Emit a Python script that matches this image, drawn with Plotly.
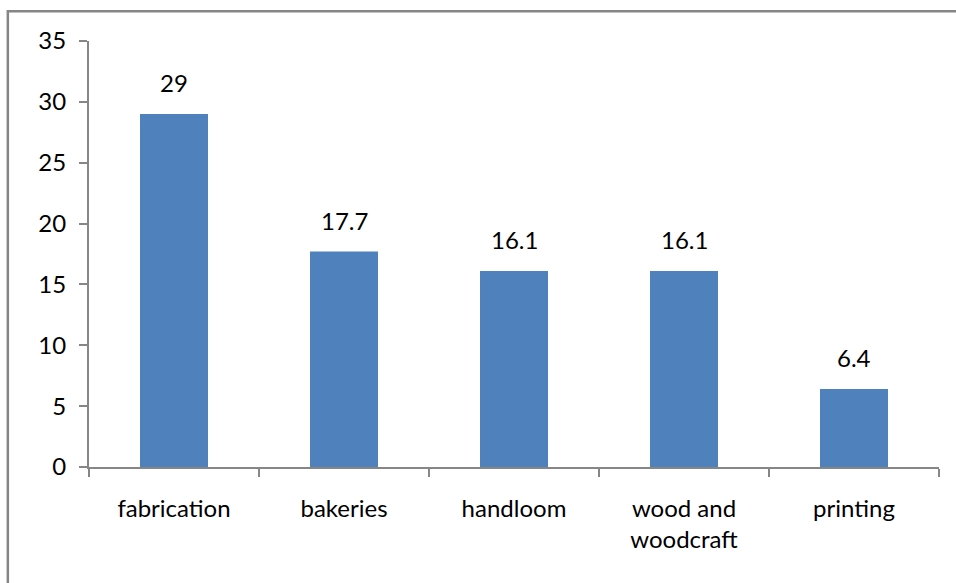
import plotly.graph_objects as go

categories = ["fabrication", "bakeries", "handloom", "wood and<br>woodcraft", "printing"]
values = [29, 17.7, 16.1, 16.1, 6.4]
y_ticks = [0, 5, 10, 15, 20, 25, 30, 35]

FONT = "Lato"
FONT_SIZE = 24
AXIS_GREY = "#868686"
BAR_BLUE = "#4F81BD"

fig = go.Figure(
    go.Bar(
        x=categories,
        y=values,
        marker=dict(color=BAR_BLUE, line=dict(width=0)),
        width=0.4,
        hoverinfo="x+y",
    )
)

# value labels above each bar
for cat, val in zip(categories, values):
    fig.add_annotation(
        x=cat, y=val, text=f"{val:g}", showarrow=False,
        yanchor="bottom", yshift=15,
        font=dict(family=FONT, size=FONT_SIZE, color="black"),
    )

# chart frame (top and left edges visible)
fig.add_shape(
    type="rect", xref="paper", yref="paper",
    x0=-0.0955, x1=1.1, y0=-0.5, y1=1.07,
    line=dict(color=AXIS_GREY, width=2.5), fillcolor="rgba(0,0,0,0)",
    layer="below",
)

fig.update_layout(
    width=956, height=583,
    margin=dict(l=89, r=17, t=41, b=115.5),
    paper_bgcolor="white", plot_bgcolor="white",
    showlegend=False,
    font=dict(family=FONT, size=FONT_SIZE, color="black"),
    bargap=0.6,
)

fig.update_xaxes(
    showline=True, linecolor=AXIS_GREY, linewidth=2,
    ticks="outside", tickcolor=AXIS_GREY, ticklen=8, tickwidth=2,
    tickson="boundaries", ticklabelstandoff=19,
    showgrid=False, zeroline=False,
    tickfont=dict(family=FONT, size=FONT_SIZE, color="black"),
)
fig.update_yaxes(
    range=[0, 35], tickvals=y_ticks,
    showline=True, linecolor=AXIS_GREY, linewidth=2,
    ticks="outside", tickcolor=AXIS_GREY, ticklen=8, tickwidth=2,
    ticklabelstandoff=8,
    showgrid=False, zeroline=False,
    tickfont=dict(family=FONT, size=FONT_SIZE, color="black"),
)

fig.write_html("out.html")
